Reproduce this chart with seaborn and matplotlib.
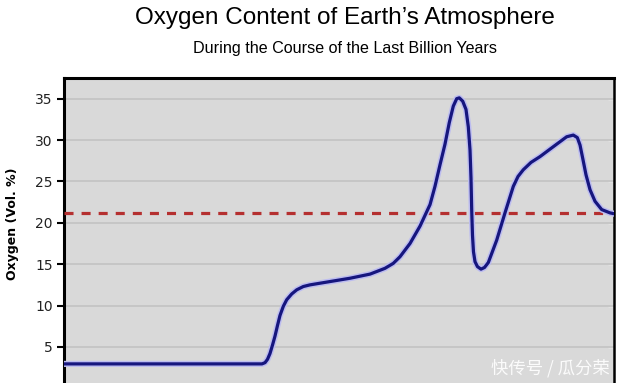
import matplotlib
matplotlib.use("Agg")
import matplotlib.pyplot as plt
import seaborn as sns
import pandas as pd

# ---- data (time in million years before present, O2 in vol. %) ----
time_ma = [-1000, -900, -790, -680, -640, -634.5, -630, -625.5, -621, -616.4,
           -611.8, -607.3, -601.3, -595.1, -586, -576.9, -564.9, -552.7, -516.4, -480,
           -443.6, -416.4, -401.3, -389.1, -370.9, -352.7, -334.5, -325.5, -316.4, -307.3,
           -299.5, -292.2, -286, -281.3, -275.1, -269.1, -264.9, -261.8, -260, -258.7,
           -257.3, -255.5, -252.7, -248.2, -241.8, -235.5, -228.5, -213.3, -198.2, -183.1,
           -174.5, -165.1, -150.9, -134.5, -116.4, -98.2, -86, -74, -66.7, -61.8,
           -56.9, -50.9, -43.6, -34.5, -22.4, -7.3, 0]
oxygen = [2.95, 2.95, 2.95, 2.95, 2.95, 3.1, 3.5, 4.2, 5.2, 6.3,
          7.6, 8.8, 9.9, 10.7, 11.4, 11.9, 12.3, 12.5, 12.9, 13.3,
          13.8, 14.5, 15.1, 15.9, 17.5, 19.6, 22.2, 24.4, 27.0, 29.5,
          32.1, 34.1, 35.0, 35.1, 34.7, 33.7, 31.6, 28.8, 25.4, 21.5,
          18.5, 16.5, 15.3, 14.7, 14.4, 14.6, 15.2, 17.9, 21.2, 24.4,
          25.6, 26.4, 27.3, 28.0, 28.9, 29.8, 30.4, 30.6, 30.3, 29.4,
          27.8, 25.8, 24.0, 22.6, 21.6, 21.2, 21.1]
today_level = 21.2
ref_span = [-1000, 0]
yticks = [5, 10, 15, 20, 25, 30, 35]

title = "Oxygen Content of Earth\u2019s Atmosphere"
subtitle = "During the Course of the Last Billion Years"
ylabel = "Oxygen (Vol. %)"
watermark = "快传号 / 瓜分荣"

df = pd.DataFrame({"t": time_ma, "o2": oxygen})
ref = pd.DataFrame({"t": ref_span, "o2": [today_level, today_level]})

sns.set_theme(style="white")
plt.rcParams["font.family"] = ["DejaVu Sans"]
plt.rcParams["lines.scale_dashes"] = False

fig = plt.figure(figsize=(6.4, 3.83), dpi=100)
fig.patch.set_facecolor("white")
ax = fig.add_axes([64 / 640, -5.3 / 383, 550 / 640, (383 - 78 + 5.3) / 383])
ax.set_facecolor("#d9d9d9")

for y in yticks:
    ax.axhline(y, color="#c6c6c6", lw=1.4, zorder=1)

sns.lineplot(data=ref, x="t", y="o2", ax=ax, color="#b53030", lw=2.3,
             dashes=False, zorder=3, legend=False)
ax.lines[-1].set_dashes((6.5, 5.8))
ax.lines[-1].set_dash_capstyle("butt")

sns.lineplot(data=df, x="t", y="o2", ax=ax, sort=False, color="#bcbcf0",
             lw=4.4, zorder=4, legend=False)
sns.lineplot(data=df, x="t", y="o2", ax=ax, sort=False, color="#16167e",
             lw=2.3, zorder=5, legend=False)
for ln in ax.lines[-2:]:
    ln.set_solid_joinstyle("round")
    ln.set_solid_capstyle("round")

ax.set_xlim(-1000, 0)
ax.set_ylim(0, 37.5)
ax.set_yticks(yticks)
ax.set_yticklabels([str(v) for v in yticks], fontsize=10, color="#222222")
ax.set_xticks([])
ax.set_xlabel("")
ax.set_ylabel(ylabel, fontsize=9, fontweight="bold", color="black")
ax.yaxis.set_label_coords(-0.0818, 0.531)
ax.tick_params(axis="y", left=True, direction="out", length=5, width=1.5,
               color="black", pad=3)

for side in ["left", "top"]:
    ax.spines[side].set_linewidth(2.2)
    ax.spines[side].set_color("black")
ax.spines["right"].set_linewidth(1.8)
ax.spines["right"].set_color("black")
ax.spines["bottom"].set_visible(False)

sec = ax.secondary_yaxis("right")
sec.set_yticks(yticks)
sec.tick_params(direction="in", length=4, width=1, color="white",
                labelright=False)
sec.spines["right"].set_visible(False)

fig.text(345 / 640, 1 - 18 / 383, title, ha="center", va="center",
         fontsize=17.5, family="Liberation Sans", color="black")
fig.text(345 / 640, 1 - 48 / 383, subtitle, ha="center", va="center",
         fontsize=11.6, family="Liberation Sans", color="black")
fig.text(550 / 640, 1 - 368 / 383, watermark, ha="center", va="center",
         fontsize=12.5, family=["Noto Sans CJK SC", "DejaVu Sans"],
         color="white", alpha=0.9)

fig.savefig("out.png", dpi=100)
